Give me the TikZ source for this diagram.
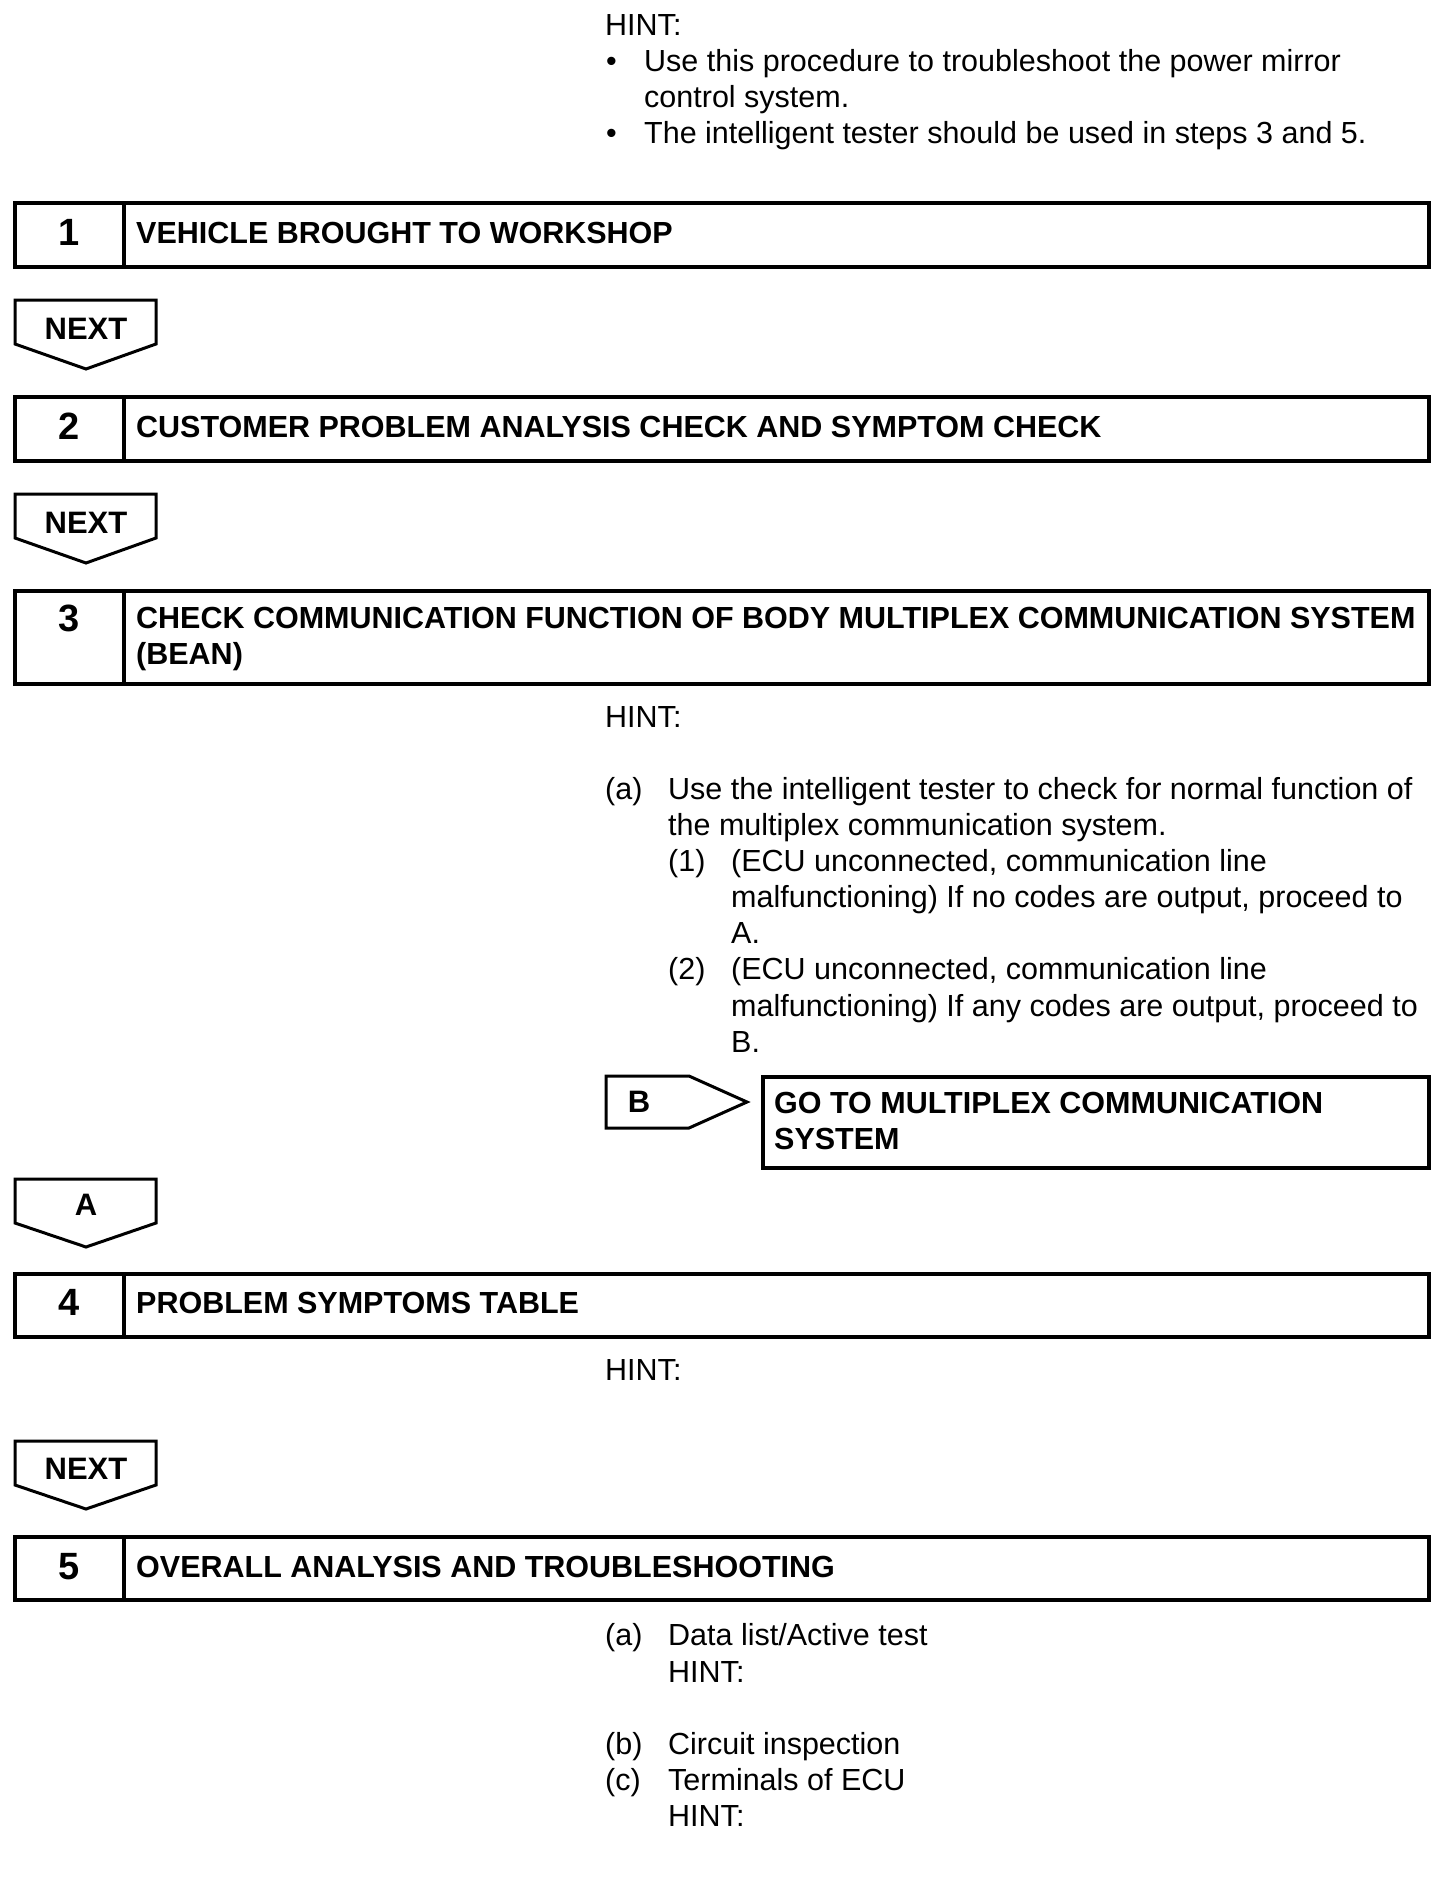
\documentclass[tikz,border=0pt]{standalone}
\usepackage{fontspec}
\setmainfont{Liberation Sans}
\begin{document}
\begin{tikzpicture}[x=1pt,y=-1pt,
  txt/.style={anchor=base west,inner sep=0pt,font=\fontsize{30.5}{36}\selectfont},
  btxt/.style={anchor=base west,inner sep=0pt,font=\fontsize{30.5}{36}\selectfont\bfseries},
  num/.style={anchor=base,inner sep=0pt,font=\fontsize{38}{44}\selectfont\bfseries},
  tabtxt/.style={anchor=base,inner sep=0pt,font=\fontsize{31}{36}\selectfont\bfseries},
  stepbox/.style={line width=4pt},
  tabshape/.style={line width=3pt,line join=miter}]
\fill[white] (0,0) rectangle (1456,1888);
\useasboundingbox (0,0) rectangle (1456,1888);

% top hint
\node[txt] (h0) at (605,35) {HINT:};
\node[txt] (h1b) at (606,71) {•};
\node[txt] (h1) at (644,71) {Use this procedure to troubleshoot the power mirror};
\node[txt] (h1c) at (644,107) {control system.};
\node[txt] (h2b) at (606,143) {•};
\node[txt] (h2) at (644,143) {The intelligent tester should be used in steps 3 and 5.};

% step 1
\draw[stepbox] (15,203) rectangle (1429,267);
\draw[line width=4pt] (124,203) -- (124,267);
\node[num] (n1) at (69,245) {1};
\node[btxt] (s1) at (136,243) {VEHICLE BROUGHT TO WORKSHOP};

% next 1
\draw[tabshape] (15,300) -- (156,300) -- (156,344) -- (86,369) -- (15,344) -- cycle;
\node[tabtxt] (x1) at (86,339) {NEXT};

% step 2
\draw[stepbox] (15,397) rectangle (1429,461);
\draw[line width=4pt] (124,397) -- (124,461);
\node[num] (n2) at (69,439) {2};
\node[btxt] (s2) at (136,437) {CUSTOMER PROBLEM ANALYSIS CHECK AND SYMPTOM CHECK};

% next 2
\draw[tabshape] (15,494) -- (156,494) -- (156,538) -- (86,563) -- (15,538) -- cycle;
\node[tabtxt] (x2) at (86,533) {NEXT};

% step 3
\draw[stepbox] (15,591) rectangle (1429,684);
\draw[line width=4pt] (124,591) -- (124,684);
\node[num] (n3) at (69,631) {3};
\node[btxt] (s3a) at (136,628) {CHECK COMMUNICATION FUNCTION OF BODY MULTIPLEX COMMUNICATION SYSTEM};
\node[btxt] (s3b) at (136,664) {(BEAN)};

% hint for step 3
\node[txt] (h3) at (605,727) {HINT:};
\node[txt] (a3) at (605,799) {(a)};
\node[txt] (a3l1) at (668,799) {Use the intelligent tester to check for normal function of};
\node[txt] (a3l2) at (668,835) {the multiplex communication system.};
\node[txt] (p1) at (668,871) {(1)};
\node[txt] (p1l1) at (731,871) {(ECU unconnected, communication line};
\node[txt] (p1l2) at (731,907) {malfunctioning) If no codes are output, proceed to};
\node[txt] (p1l3) at (731,943) {A.};
\node[txt] (p2) at (668,979) {(2)};
\node[txt] (p2l1) at (731,979) {(ECU unconnected, communication line};
\node[txt] (p2l2) at (731,1016) {malfunctioning) If any codes are output, proceed to};
\node[txt] (p2l3) at (731,1052) {B.};

% B branch
\draw[tabshape] (606,1076) -- (689,1076) -- (747,1102) -- (689,1128) -- (606,1128) -- cycle;
\node[tabtxt] (bt) at (639,1112) {B};
\draw[stepbox] (763,1077) rectangle (1429,1168);
\node[btxt] (g1) at (774,1113) {GO TO MULTIPLEX COMMUNICATION};
\node[btxt] (g2) at (774,1149) {SYSTEM};

% A tab
\draw[tabshape] (15,1179) -- (156,1179) -- (156,1223) -- (86,1247) -- (15,1223) -- cycle;
\node[tabtxt] (at) at (86,1215) {A};

% step 4
\draw[stepbox] (15,1274) rectangle (1429,1337);
\draw[line width=4pt] (124,1274) -- (124,1337);
\node[num] (n4) at (69,1315) {4};
\node[btxt] (s4) at (136,1313) {PROBLEM SYMPTOMS TABLE};
\node[txt] (h4) at (605,1380) {HINT:};

% next 3
\draw[tabshape] (15,1441) -- (156,1441) -- (156,1485) -- (86,1509) -- (15,1485) -- cycle;
\node[tabtxt] (x3) at (86,1479) {NEXT};

% step 5
\draw[stepbox] (15,1537) rectangle (1429,1600);
\draw[line width=4pt] (124,1537) -- (124,1600);
\node[num] (n5) at (69,1579) {5};
\node[btxt] (s5) at (136,1577) {OVERALL ANALYSIS AND TROUBLESHOOTING};

\node[txt] (a5) at (605,1645) {(a)};
\node[txt] (a5t) at (668,1645) {Data list/Active test};
\node[txt] (a5h) at (668,1682) {HINT:};
\node[txt] (b5) at (605,1754) {(b)};
\node[txt] (b5t) at (668,1754) {Circuit inspection};
\node[txt] (c5) at (605,1790) {(c)};
\node[txt] (c5t) at (668,1790) {Terminals of ECU};
\node[txt] (c5h) at (668,1826) {HINT:};
\end{tikzpicture}
\end{document}
